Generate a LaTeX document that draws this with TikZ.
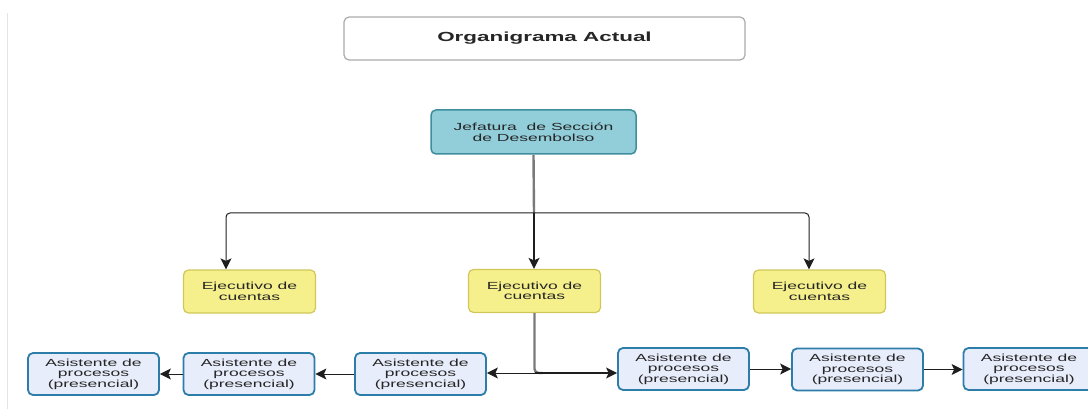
\documentclass[tikz,border=0pt]{standalone}
\usepackage{fontspec}
\setmainfont[FakeStretch=1.7]{Liberation Sans}
\usetikzlibrary{arrows.meta}
\definecolor{txt}{HTML}{262626}
\definecolor{titleborder}{HTML}{ABABAB}
\definecolor{jeffill}{HTML}{92CEDA}
\definecolor{jefborder}{HTML}{3E8E9D}
\definecolor{ejfill}{HTML}{F6F08C}
\definecolor{ejborder}{HTML}{CFC75A}
\definecolor{asfill}{HTML}{E8EDFB}
\definecolor{asborder}{HTML}{2C7DAA}
\definecolor{gline}{HTML}{7A7A7A}
\definecolor{dline}{HTML}{1E1E1E}
\definecolor{edge}{HTML}{E4E4E4}
\tikzset{
  base/.style={rounded corners=5pt, inner sep=0pt, align=center, text=txt,
    font=\fontsize{10.3}{10.6}\selectfont},
  titlebox/.style={base, draw=titleborder, line width=1.2pt, fill=white,
    minimum width=401pt, minimum height=43pt, font=\bfseries\fontsize{13.2}{14}\selectfont},
  jefbox/.style={base, draw=jefborder, line width=1.5pt, fill=jeffill,
    minimum width=205pt, minimum height=44pt},
  ejbox/.style={base, draw=ejborder, line width=1.2pt, fill=ejfill,
    minimum width=132pt, minimum height=43pt},
  asbox/.style={base, draw=asborder, line width=1.8pt, fill=asfill,
    minimum width=131pt, minimum height=42pt},
  trunk/.style={draw=gline, line width=2.4pt},
  arr/.style={draw=dline, line width=1pt, -{Stealth[length=11pt,width=11pt,inset=2.5pt]}},
}
\begin{document}
\begin{tikzpicture}[x=1pt,y=-1pt]
\useasboundingbox (0,0) rectangle (1088,409);
\draw[edge, line width=1pt] (7,13) -- (7,409);

\node[titlebox] (title) at (544.5,38.5) {Organigrama Actual};
\node[jefbox] (jef) at (533.5,132) {Jefatura\ \ de Sección\\de Desembolso};

\node[ejbox] (eL) at (249.5,291.5) {Ejecutivo de\\cuentas};
\node[ejbox] (eM) at (534.5,291) {Ejecutivo de\\cuentas};
\node[ejbox] (eR) at (819.5,291.5) {Ejecutivo de\\cuentas};

\node[asbox] (a1) at (93.5,374) {Asistente de\\procesos\\(presencial)};
\node[asbox] (a2) at (249,374) {Asistente de\\procesos\\(presencial)};
\node[asbox] (a3) at (420.5,374) {Asistente de\\procesos\\(presencial)};
\node[asbox] (b1) at (683.5,369) {Asistente de\\procesos\\(presencial)};
\node[asbox] (b2) at (857.5,369.5) {Asistente de\\procesos\\(presencial)};
\node[asbox] (b3) at (1029,369) {Asistente de\\procesos\\(presencial)};

% top distribution
\coordinate (hM) at (534,213);
\coordinate (hL) at (226,213);
\coordinate (hR) at (809,213);
\draw[trunk] (jef.south) -- (hM);
\draw[arr, rounded corners=4pt] (hM) -- (hL) -- (hL |- eL.north);
\draw[arr, rounded corners=4pt] (hM) -- (hR) -- (hR |- eR.north);
\draw[arr, line width=1.4pt] (hM) -- (hM |- eM.north);

% bottom distribution
\coordinate (J) at (534.5,373);
\draw[trunk, rounded corners=4pt] (eM.south) -- (J) -- ++(8,0);
\draw[arr] (J) -- (J -| a3.east);
\draw[arr, line width=1.3pt] (J) -- (J -| b1.west);
\draw[arr] (a3.west) -- (a2.east);
\draw[arr] (a2.west) -- (a1.east);
\draw[arr] (b1.east) -- (b1.east -| b2.west);
\draw[arr] (b2.east) -- (b2.east -| b3.west);
\end{tikzpicture}
\end{document}
